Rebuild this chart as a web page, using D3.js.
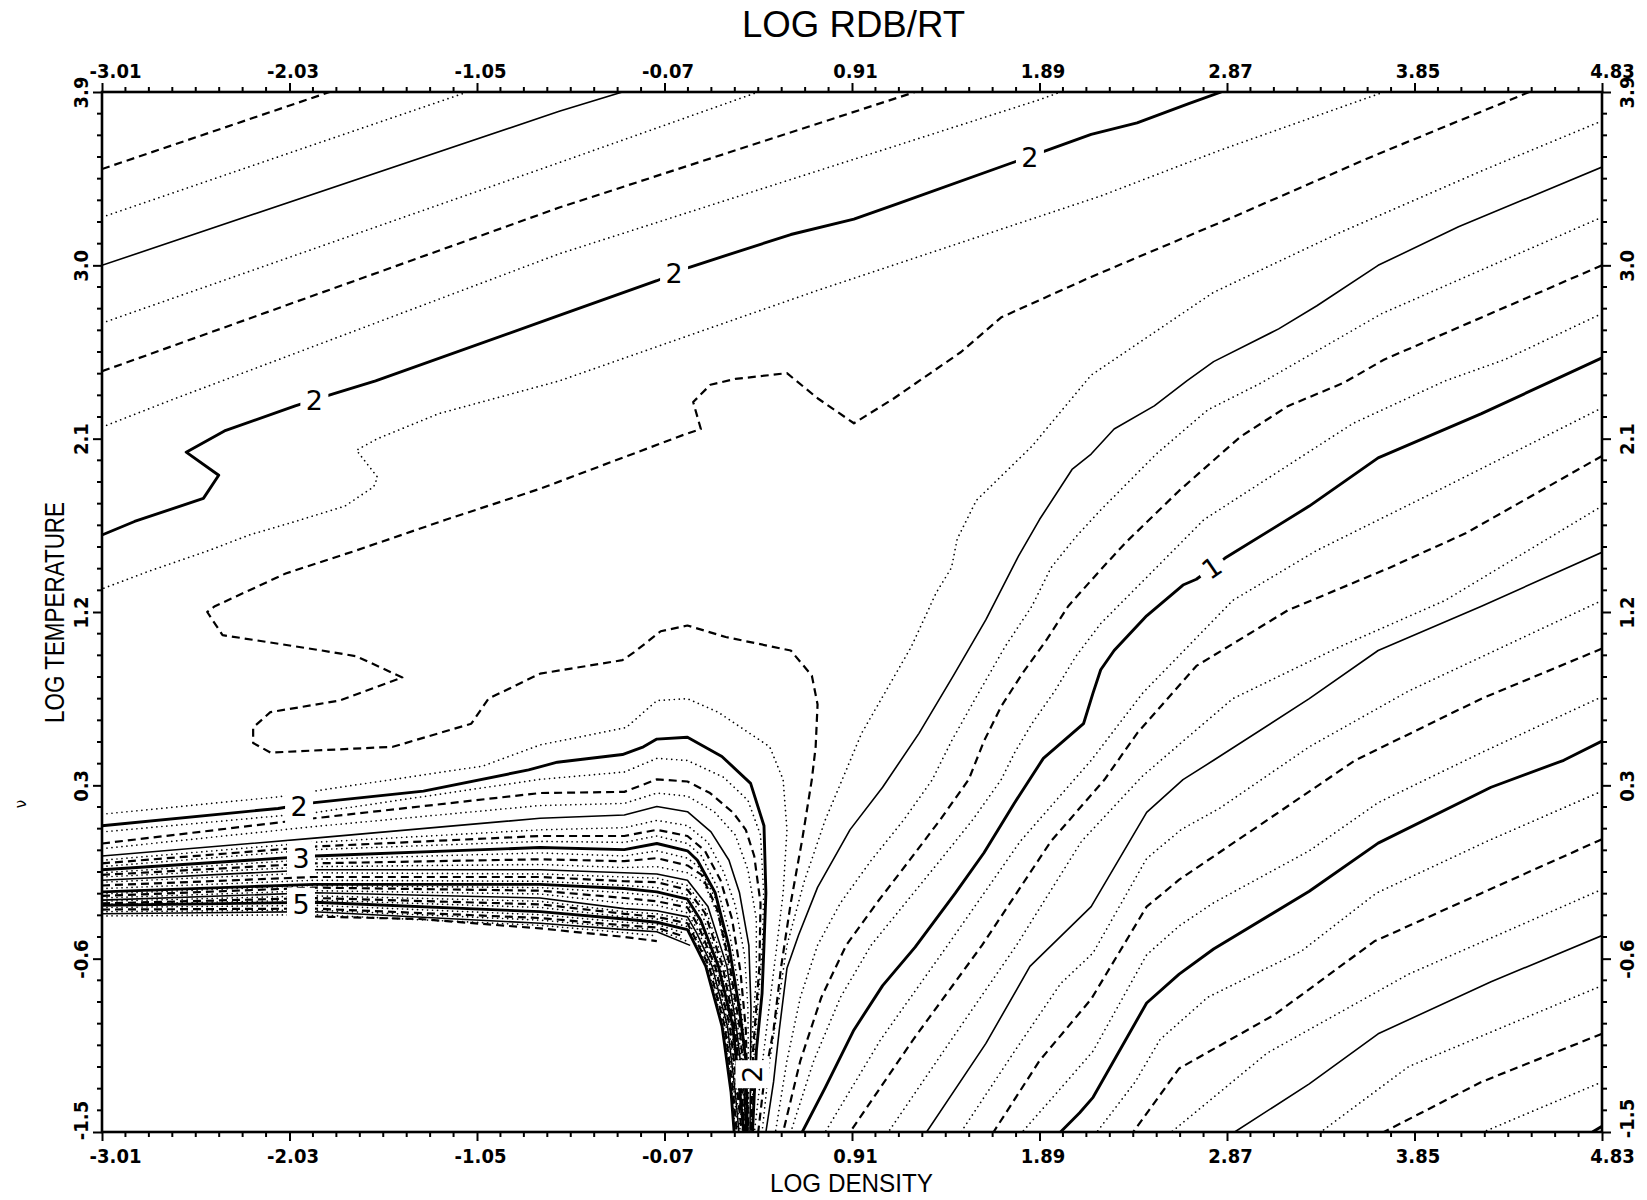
<!DOCTYPE html>
<html><head><meta charset="utf-8">
<script src="https://cdn.jsdelivr.net/npm/d3@7"></script>
<style>
body{margin:0;background:#fff;}
svg{display:block;background:#fff;}
</style></head>
<body>
<svg id="chart" width="1647" height="1200"></svg>
<script>
// ---------------- axis tick values ----------------
const xTicks = [-3.01,-2.03,-1.05,-0.07,0.91,1.89,2.87,3.85,4.83];
const yTicks = [-1.5,-0.6,0.3,1.2,2.1,3.0,3.9];

// ---------------- contour lines (log density, log temperature) ----------------
const c2p75   = [[-3.01,3.50],[-1.82,3.90]];
const c2p625  = [[-3.01,3.25],[-1.10,3.90]];
const c2p5a   = [[-3.01,3.00],[-0.62,3.80],[-0.29,3.90]];
const c2p375a = [[-3.01,2.70],[-0.63,3.53],[0.42,3.90]];
const c2p25a  = [[-3.01,2.45],[-0.62,3.30],[1.24,3.90]];
const c2p125a = [[-3.01,2.16],[-2.65,2.30],[-0.62,3.06],[1.89,3.86],[2.00,3.90]];
const c2a = [[-3.01,1.60],[-2.84,1.67],[-2.48,1.79],[-2.40,1.91],[-2.57,2.03],[-2.37,2.14],[-2.00,2.27],[-1.81,2.33],[-1.58,2.40],[-0.62,2.74],[-0.11,2.92],[0.06,2.99],[0.59,3.16],[0.92,3.24],[1.15,3.32],[1.74,3.53],[1.91,3.59],[2.16,3.68],[2.40,3.74],[2.67,3.84],[2.84,3.90]];
const c1p875a = [[3.69,3.90],[2.84,3.60],[2.21,3.36],[0.73,2.87],[-0.62,2.40],[-1.25,2.23],[-1.57,2.10],[-1.68,2.04],[-1.57,1.90],[-1.59,1.85],[-1.74,1.75],[-2.00,1.67],[-2.24,1.60],[-2.45,1.52],[-2.77,1.41],[-3.01,1.32]];
const c1p75 = [[4.45,3.90],[3.64,3.57],[2.90,3.25],[2.16,2.94],[1.69,2.73],[1.48,2.55],[1.13,2.31],[0.92,2.18],[0.73,2.31],[0.57,2.44],[0.30,2.41],[0.17,2.38],[0.08,2.29],[0.12,2.15],[0.03,2.12],[-0.72,1.84],[-1.21,1.68],[-1.68,1.52],[-2.05,1.40],[-2.42,1.23],[-2.46,1.20],[-2.38,1.08],[-1.86,1.00],[-1.68,0.97],[-1.44,0.86],[-1.77,0.74],[-2.13,0.68],[-2.22,0.60],[-2.22,0.52],[-2.13,0.47],[-1.49,0.50],[-1.08,0.62],[-0.99,0.75],[-0.72,0.88],[-0.29,0.95],[-0.23,0.99],[-0.09,1.10],[0.05,1.13],[0.25,1.07],[0.59,1.00],[0.70,0.87],[0.73,0.72],[0.72,0.50],[0.70,0.33],[0.65,0.02],[0.59,-0.31],[0.54,-0.64],[0.50,-0.97],[0.45,-1.24],[0.42,-1.50]];
const c1p625 = [[4.83,3.75],[4.20,3.49],[3.46,3.17],[2.80,2.86],[2.16,2.43],[1.85,2.06],[1.56,1.78],[1.46,1.58],[1.43,1.43],[1.35,1.30],[1.22,1.02],[1.07,0.76],[0.96,0.57],[0.88,0.38],[0.77,0.12],[0.66,-0.20],[0.57,-0.53],[0.53,-0.80],[0.48,-1.13],[0.44,-1.50]];
const c1p5 = [[4.83,3.51],[4.08,3.20],[3.66,3.00],[3.34,2.79],[3.14,2.67],[2.80,2.50],[2.66,2.40],[2.49,2.27],[2.28,2.15],[2.16,2.02],[2.06,1.94],[1.89,1.68],[1.78,1.49],[1.61,1.16],[1.44,0.87],[1.26,0.57],[1.07,0.29],[0.90,0.07],[0.73,-0.23],[0.63,-0.48],[0.57,-0.65],[0.53,-0.97],[0.50,-1.24],[0.46,-1.50]];
const c1p375 = [[4.83,3.25],[3.68,2.75],[3.05,2.39],[2.77,2.25],[2.50,2.02],[2.21,1.73],[2.08,1.59],[1.95,1.43],[1.85,1.23],[1.71,1.02],[1.56,0.76],[1.43,0.53],[1.33,0.33],[1.18,0.12],[1.01,-0.09],[0.85,-0.31],[0.73,-0.53],[0.64,-0.80],[0.57,-1.13],[0.51,-1.50]];
const c1p25 = [[4.83,3.00],[3.69,2.51],[3.48,2.39],[3.19,2.27],[2.94,2.11],[2.62,1.83],[2.34,1.56],[2.21,1.42],[2.04,1.23],[1.93,1.06],[1.80,0.88],[1.69,0.71],[1.60,0.53],[1.52,0.33],[1.37,0.12],[1.21,-0.09],[1.04,-0.31],[0.88,-0.53],[0.75,-0.80],[0.64,-1.13],[0.55,-1.50]];
const c1p125 = [[4.83,2.75],[4.32,2.51],[4.01,2.40],[3.53,2.18],[2.75,1.68],[2.21,1.14],[2.08,0.97],[1.97,0.79],[1.85,0.62],[1.76,0.47],[1.69,0.33],[1.54,0.12],[1.37,-0.09],[1.19,-0.31],[1.01,-0.53],[0.85,-0.80],[0.71,-1.13],[0.59,-1.50]];
const c1 = [[4.83,2.52],[4.57,2.40],[4.20,2.23],[3.66,2.00],[3.30,1.75],[2.86,1.48],[2.71,1.37],[2.64,1.34],[2.45,1.18],[2.28,1.00],[2.21,0.90],[2.17,0.78],[2.12,0.62],[1.91,0.44],[1.76,0.21],[1.60,-0.05],[1.45,-0.26],[1.24,-0.54],[1.07,-0.74],[0.92,-0.97],[0.77,-1.27],[0.65,-1.50]];
const c0p875 = [[4.83,2.26],[4.01,1.85],[3.34,1.52],[2.90,1.26],[2.43,0.78],[2.16,0.43],[1.79,0.01],[1.41,-0.53],[1.06,-1.02],[0.77,-1.50]];
const c0p75 = [[4.83,2.01],[4.12,1.61],[3.72,1.43],[3.19,1.21],[2.71,0.92],[2.40,0.57],[2.23,0.33],[1.95,0.01],[1.59,-0.53],[1.23,-1.02],[0.90,-1.50]];
const c0p625 = [[4.83,1.75],[4.01,1.26],[3.46,1.02],[2.90,0.75],[2.43,0.35],[2.11,0.01],[1.77,-0.53],[1.43,-1.02],[1.10,-1.50]];
const c0p5 = [[4.83,1.51],[4.20,1.23],[3.66,1.00],[3.30,0.75],[2.80,0.43],[2.64,0.33],[2.45,0.16],[2.16,-0.33],[1.84,-0.64],[1.61,-1.04],[1.30,-1.50]];
const c0p375 = [[4.83,1.26],[3.82,0.79],[3.30,0.50],[2.83,0.18],[2.63,0.07],[2.45,-0.08],[2.17,-0.57],[2.00,-0.73],[1.76,-1.08],[1.48,-1.50]];
const c0p25 = [[4.83,1.01],[4.20,0.75],[3.54,0.43],[3.14,0.16],[2.62,-0.19],[2.45,-0.33],[2.16,-0.81],[1.89,-1.13],[1.65,-1.50]];
const c0p125 = [[4.83,0.76],[4.20,0.47],[3.66,0.21],[3.30,-0.04],[2.80,-0.31],[2.62,-0.43],[2.45,-0.58],[2.17,-1.08],[2.03,-1.24],[1.80,-1.50]];
const c0 = [[4.83,0.53],[4.63,0.43],[4.25,0.29],[3.66,0.00],[3.30,-0.25],[2.80,-0.55],[2.62,-0.68],[2.45,-0.83],[2.17,-1.32],[2.10,-1.40],[2.00,-1.50]];
const cm0p125 = [[4.83,0.27],[4.23,0.01],[3.65,-0.26],[3.26,-0.56],[2.77,-0.80],[2.52,-1.02],[2.39,-1.24],[2.19,-1.50]];
const cm0p25 = [[4.83,0.02],[4.20,-0.26],[3.64,-0.51],[3.12,-0.89],[2.62,-1.17],[2.38,-1.50]];
const cm0p375 = [[4.83,-0.24],[3.82,-0.68],[3.08,-1.09],[2.58,-1.50]];
const cm0p5 = [[4.83,-0.48],[4.25,-0.72],[3.66,-0.99],[3.30,-1.25],[2.91,-1.50]];
const cm0p625 = [[4.83,-0.74],[3.82,-1.16],[3.36,-1.50]];
const cm0p75 = [[4.83,-0.99],[4.20,-1.24],[3.69,-1.50]];
const cm0p875 = [[4.83,-1.24],[4.21,-1.50]];
const cm1 = [[4.83,-1.47],[4.78,-1.50]];
const c1p875b = [[-3.01,0.15],[-2.09,0.24],[-1.90,0.27],[-1.02,0.40],[-0.72,0.51],[-0.27,0.60],[-0.11,0.74],[0.05,0.75],[0.21,0.68],[0.48,0.50],[0.55,0.33],[0.57,0.07],[0.55,-0.26],[0.51,-0.59],[0.47,-0.91],[0.43,-1.24],[0.40,-1.50]];
const c2b = [[-3.01,0.09],[-2.09,0.18],[-1.90,0.21],[-1.33,0.27],[-0.78,0.38],[-0.63,0.42],[-0.29,0.46],[-0.18,0.50],[-0.11,0.54],[0.05,0.55],[0.23,0.45],[0.38,0.31],[0.45,0.09],[0.46,-0.26],[0.45,-0.53],[0.44,-0.78],[0.41,-1.08],[0.39,-1.50]];
const c5p75 = [[-1.90,-0.381],[-1.35,-0.394],[-0.72,-0.443],[-0.28,-0.487],[-0.11,-0.509]];

// dense band of contours at the lower left: values read at common log-density columns, then each line's own tail
const bandX = [-3.01,-1.90,-0.72,-0.28,-0.11,0.05];
const bandLevels = [2.125,2.25,2.375,2.5,2.625,2.75,2.875,3.0,3.125,3.25,3.375,3.5,3.625,3.75,3.875,4.0,4.125,4.25,4.375,4.5,4.625,4.75,4.875,5.0,5.125,5.25,5.375,5.5,5.625];
const bandY = [
 [0.058,0.158,0.331,0.369,0.440,0.429],
 [-0.002,0.129,0.260,0.266,0.331,0.320],
 [-0.029,0.086,0.195,0.206,0.260,0.244],
 [-0.067,0.026,0.129,0.146,0.190,0.163],
 [-0.089,0.004,0.069,0.080,0.118,0.091],
 [-0.105,-0.018,0.037,0.037,0.069,0.037],
 [-0.122,-0.034,0.009,0.004,0.037,-0.002],
 [-0.138,-0.067,-0.023,-0.034,-0.002,-0.040],
 [-0.154,-0.084,-0.051,-0.067,-0.040,-0.078],
 [-0.165,-0.105,-0.084,-0.094,-0.078,-0.116],
 [-0.176,-0.122,-0.111,-0.127,-0.122,-0.154],
 [-0.193,-0.138,-0.138,-0.154,-0.160,-0.193],
 [-0.203,-0.154,-0.160,-0.176,-0.182,-0.220],
 [-0.220,-0.176,-0.176,-0.198,-0.203,-0.242],
 [-0.236,-0.193,-0.198,-0.220,-0.231,-0.269],
 [-0.253,-0.214,-0.214,-0.236,-0.253,-0.291],
 [-0.264,-0.220,-0.231,-0.258,-0.274,-0.313],
 [-0.274,-0.231,-0.247,-0.285,-0.302,-0.334],
 [-0.285,-0.247,-0.264,-0.313,-0.323,-0.362],
 [-0.296,-0.258,-0.285,-0.340,-0.351,-0.383],
 [-0.302,-0.274,-0.302,-0.356,-0.367,-0.400],
 [-0.313,-0.285,-0.318,-0.367,-0.383,-0.416],
 [-0.318,-0.296,-0.334,-0.383,-0.394,-0.433],
 [-0.323,-0.307,-0.356,-0.394,-0.411,-0.449],
 [-0.334,-0.323,-0.372,-0.411,-0.422],
 [-0.345,-0.340,-0.389,-0.427,-0.438],
 [-0.356,-0.348,-0.400,-0.438,-0.449],
 [-0.367,-0.356,-0.416,-0.449,-0.460],
 [-0.378,-0.372,-0.427,-0.465,-0.481]
];
const bandTail = [
 [[0.239,0.342],[0.366,0.222],[0.432,0.042],[0.448,-0.258],[0.442,-0.531],[0.421,-0.803],[0.399,-1.076],[0.385,-1.5]],
 [[0.168,0.260],[0.289,0.158],[0.355,0.069],[0.399,-0.067],[0.432,-0.313],[0.426,-0.640],[0.393,-1.076],[0.382,-1.5]],
 [[0.190,0.163],[0.300,0.042],[0.366,-0.138],[0.410,-0.394],[0.410,-0.694],[0.382,-1.076],[0.379,-1.5]],
 [[0.173,0.058],[0.267,-0.089],[0.322,-0.258],[0.371,-0.531],[0.382,-0.858],[0.377,-1.5]],
 [[0.157,0.004],[0.239,-0.149],[0.300,-0.323],[0.349,-0.585],[0.366,-0.858],[0.371,-1.5]],
 [[0.141,-0.040],[0.223,-0.193],[0.283,-0.394],[0.327,-0.667],[0.355,-0.967],[0.368,-1.5]],
 [[0.124,-0.067],[0.206,-0.231],[0.272,-0.476],[0.322,-0.776],[0.349,-1.049],[0.366,-1.5]],
 [[0.102,-0.089],[0.195,-0.258],[0.267,-0.536],[0.322,-0.863],[0.355,-1.125],[0.363,-1.5]],
 [[0.113,-0.127],[0.204,-0.302],[0.281,-0.640],[0.330,-0.951],[0.357,-1.294],[0.361,-1.5]],
 [[0.124,-0.165],[0.206,-0.345],[0.272,-0.640],[0.322,-0.951],[0.354,-1.294],[0.359,-1.5]],
 [[0.135,-0.203],[0.212,-0.378],[0.264,-0.640],[0.313,-0.951],[0.350,-1.294],[0.357,-1.5]],
 [[0.157,-0.329],[0.256,-0.640],[0.305,-0.951],[0.346,-1.294],[0.355,-1.5]],
 [[0.146,-0.345],[0.245,-0.640],[0.301,-0.951],[0.341,-1.294],[0.352,-1.5]],
 [[0.141,-0.362],[0.234,-0.640],[0.296,-0.951],[0.335,-1.294],[0.349,-1.5]],
 [[0.130,-0.378],[0.223,-0.640],[0.292,-0.951],[0.330,-1.294],[0.346,-1.5]],
 [[0.119,-0.400],[0.212,-0.640],[0.287,-0.951],[0.324,-1.294],[0.344,-1.5]],
 [[0.113,-0.416],[0.204,-0.640],[0.280,-0.951],[0.318,-1.294],[0.338,-1.5]],
 [[0.108,-0.433],[0.195,-0.640],[0.272,-0.951],[0.312,-1.294],[0.333,-1.5]],
 [[0.102,-0.449],[0.187,-0.640],[0.266,-0.951],[0.306,-1.294],[0.326,-1.5]],
 [[0.097,-0.465],[0.179,-0.640],[0.259,-0.951],[0.300,-1.294],[0.319,-1.5]],
 [[0.097,-0.492],[0.171,-0.640],[0.252,-0.951],[0.294,-1.294],[0.313,-1.5]],
 [[0.097,-0.509],[0.163,-0.640],[0.245,-0.951],[0.289,-1.294],[0.307,-1.5]],
 [[0.097,-0.531],[0.154,-0.640],[0.238,-0.951],[0.283,-1.294],[0.300,-1.5]],
 [[0.102,-0.552],[0.146,-0.640],[0.231,-0.951],[0.278,-1.294],[0.294,-1.5]],
 [[0.025,-0.465]],
 [[0.036,-0.487]],
 [[0.047,-0.509]],
 [[0.064,-0.531]],
 []
];

const contourList = [
 [2.75,c2p75],[2.625,c2p625],[2.5,c2p5a],[2.375,c2p375a],[2.25,c2p25a],[2.125,c2p125a],[2.0,c2a],
 [1.875,c1p875a],[1.75,c1p75],[1.625,c1p625],[1.5,c1p5],[1.375,c1p375],[1.25,c1p25],[1.125,c1p125],[1.0,c1],
 [0.875,c0p875],[0.75,c0p75],[0.625,c0p625],[0.5,c0p5],[0.375,c0p375],[0.25,c0p25],[0.125,c0p125],[0.0,c0],
 [-0.125,cm0p125],[-0.25,cm0p25],[-0.375,cm0p375],[-0.5,cm0p5],[-0.625,cm0p625],[-0.75,cm0p75],[-0.875,cm0p875],[-1.0,cm1],
 [1.875,c1p875b],[2.0,c2b],[5.75,c5p75]
];

// contour labels
const labelText = ["2","2","2","2","3","5","2","1"];
const labelPos  = [[-1.90,2.30],[-0.02,2.96],[1.84,3.56],[-1.98,0.19],[-1.97,-0.08],[-1.97,-0.32],[0.39,-1.20],[2.79,1.43]];
const labelAngle = [0,0,0,0,0,0,-90,-34];

// ---------------- drawing ----------------
const svg = d3.select("#chart");
const L = 102, R = 1602, T = 92, B = 1132;
const x = d3.scaleLinear().domain([-3.01,4.83]).range([L,R]);
const y = d3.scaleLinear().domain([-1.5,3.9]).range([B,T]);

svg.append("rect").attr("width",1647).attr("height",1200).attr("fill","#fff");
svg.append("defs").append("clipPath").attr("id","plotclip")
  .append("rect").attr("x",L).attr("y",T).attr("width",R-L).attr("height",B-T);

function styleFor(level){
  const f = ((Math.round(level*8) % 8) + 8) % 8;
  if (f===0) return {w:2.9, dash:null, cap:"butt"};
  if (f===4) return {w:1.6, dash:null, cap:"butt"};
  if (f===2 || f===6) return {w:2.2, dash:"8,5", cap:"butt"};
  return {w:1.7, dash:"0.01,5", cap:"round"};
}

const all = contourList.map(d=>({level:d[0], pts:d[1]}));
bandLevels.forEach((lv,i)=>{
  const pts = [];
  bandY[i].forEach((v,j)=>{ pts.push([bandX[j], v]); });
  bandTail[i].forEach(p=>pts.push(p));
  all.push({level:lv, pts});
});

const line = d3.line().x(d=>x(d[0])).y(d=>y(d[1]));
const gC = svg.append("g").attr("clip-path","url(#plotclip)");
gC.selectAll("path.c").data(all).join("path")
  .attr("class","c")
  .attr("d", d=>line(d.pts))
  .attr("fill","none")
  .attr("stroke","#000")
  .attr("stroke-linejoin","round")
  .attr("stroke-linecap", d=>styleFor(d.level).cap)
  .attr("stroke-width", d=>styleFor(d.level).w)
  .attr("stroke-dasharray", d=>styleFor(d.level).dash);

// label knockouts + labels
const gL = svg.append("g");
labelText.forEach((t,i)=>{
  const px = x(labelPos[i][0]), py = y(labelPos[i][1]);
  const g = gL.append("g").attr("transform",`translate(${px},${py}) rotate(${labelAngle[i]})`);
  g.append("rect").attr("x",-14).attr("y",-17).attr("width",28).attr("height",34).attr("fill","#fff");
  g.append("text").text(t)
    .attr("text-anchor","middle").attr("dy","0.36em")
    .attr("font-family","'DejaVu Sans', sans-serif").attr("font-size",27)
    .attr("fill","#000");
});

// frame
svg.append("rect").attr("x",L).attr("y",T).attr("width",R-L).attr("height",B-T)
  .attr("fill","none").attr("stroke","#000").attr("stroke-width",2.6);

// minor ticks
function minors(ticks){
  const out=[];
  for(let i=0;i<ticks.length-1;i++){
    for(let k=1;k<8;k++) out.push(ticks[i]+(ticks[i+1]-ticks[i])*k/8);
  }
  return out;
}
const xMin = minors(xTicks), yMin = minors(yTicks);
const gm = svg.append("g").attr("stroke","#000").attr("stroke-width",2);
xMin.forEach(v=>{
  gm.append("line").attr("x1",x(v)).attr("x2",x(v)).attr("y1",B).attr("y2",B+5);
  gm.append("line").attr("x1",x(v)).attr("x2",x(v)).attr("y1",T).attr("y2",T-5);
});
yMin.forEach(v=>{
  gm.append("line").attr("y1",y(v)).attr("y2",y(v)).attr("x1",L).attr("x2",L-5);
  gm.append("line").attr("y1",y(v)).attr("y2",y(v)).attr("x1",R).attr("x2",R+5);
});

const tickFont = "'Liberation Sans Narrow','DejaVu Sans Condensed','Liberation Sans',sans-serif";
function styleAxis(g){
  g.select(".domain").remove();
  g.attr("font-family",tickFont).attr("font-size",20).attr("font-weight","bold");
  g.selectAll(".tick line").attr("stroke","#000").attr("stroke-width",2);
  g.selectAll(".tick text").attr("fill","#000");
}
const xdx = (d,i)=> i===0 ? 13 : (i===xTicks.length-1 ? 10 : 3);

const gB = svg.append("g").attr("transform",`translate(0,${B})`)
  .call(d3.axisBottom(x).tickValues(xTicks).tickSize(9).tickFormat(d=>d.toFixed(2)));
styleAxis(gB);
gB.selectAll(".tick text").attr("y",31).attr("dy",0).attr("dx",xdx);

const gT = svg.append("g").attr("transform",`translate(0,${T})`)
  .call(d3.axisTop(x).tickValues(xTicks).tickSize(9).tickFormat(d=>d.toFixed(2)));
styleAxis(gT);
gT.selectAll(".tick text").attr("y",-14).attr("dy",0).attr("dx",xdx);

const gLft = svg.append("g").attr("transform",`translate(${L},0)`)
  .call(d3.axisLeft(y).tickValues(yTicks).tickSize(9).tickFormat(d=>d.toFixed(1)));
styleAxis(gLft);
gLft.selectAll(".tick text").attr("transform","rotate(-90)").attr("text-anchor","middle")
  .attr("x",(d,i)=> i===0 ? 12 : 0).attr("y",-14).attr("dy",0);

const gR = svg.append("g").attr("transform",`translate(${R},0)`)
  .call(d3.axisRight(y).tickValues(yTicks).tickSize(9).tickFormat(d=>d.toFixed(1)));
styleAxis(gR);
gR.selectAll(".tick text").attr("transform","rotate(-90)").attr("text-anchor","middle")
  .attr("x",(d,i)=> i===0 ? 14 : 0).attr("y",32).attr("dy",0);

// titles
const titleFont = "'Liberation Sans Narrow','Liberation Sans','DejaVu Sans',sans-serif";
svg.append("text").text("LOG RDB/RT").attr("x",742).attr("y",37)
  .attr("font-family",titleFont).attr("font-size",37).attr("textLength",223)
  .attr("lengthAdjust","spacingAndGlyphs").attr("fill","#000");
svg.append("text").text("LOG DENSITY").attr("x",770).attr("y",1192)
  .attr("font-family",titleFont).attr("font-size",26).attr("textLength",163)
  .attr("lengthAdjust","spacingAndGlyphs").attr("fill","#000");
svg.append("text").text("LOG TEMPERATURE")
  .attr("transform","translate(64,723) rotate(-90)")
  .attr("font-family",titleFont).attr("font-size",28).attr("textLength",221)
  .attr("lengthAdjust","spacingAndGlyphs").attr("fill","#000");
svg.append("text").text("ν").attr("transform","translate(26,804) rotate(-90)")
  .attr("text-anchor","middle")
  .attr("font-family","'DejaVu Sans',sans-serif").attr("font-size",15).attr("fill","#000");
</script>
</body></html>
